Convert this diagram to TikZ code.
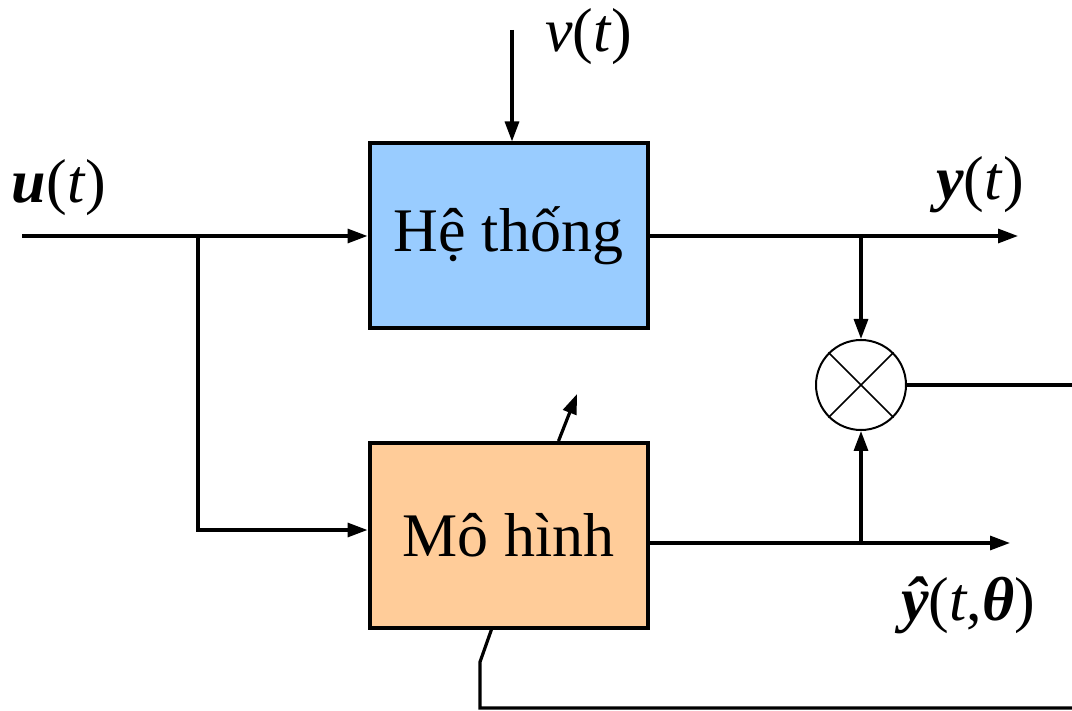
\documentclass[tikz,border=0pt]{standalone}
\usepackage{fontspec}
\setmainfont{Liberation Serif}
\usepackage{tikz}
\usetikzlibrary{positioning,arrows.meta,calc}
\definecolor{xanh}{HTML}{99CCFF}
\definecolor{cam}{HTML}{FFCC99}
\begin{document}
\begin{tikzpicture}[
  x=0.5pt, y=-0.5pt,
  font=\fontsize{31}{36}\selectfont,
  khoi/.style={draw, line width=2pt, minimum width=139pt, minimum height=92.5pt, inner sep=0pt},
  tron/.style={draw, circle, line width=1pt, minimum size=45pt, inner sep=0pt},
  nhan/.style={anchor=base, inner sep=0pt},
  arr/.style={-{Triangle[length=10pt,width=7pt]}, line width=1.6pt},
  ln/.style={line width=1.6pt}
]
\useasboundingbox (0,0) rectangle (1072,711);
\node[khoi, fill=xanh] (he) at (508.5,236) {Hệ thống};
\node[khoi, fill=cam] (mohinh) at (508.5,535.5) {Mô hình};
\node[tron] (sosanh) at (861,385) {};
\draw[line width=0.8pt] (sosanh.north west) -- (sosanh.south east);
\draw[line width=0.8pt] (sosanh.north east) -- (sosanh.south west);
% labels
\node[nhan] (lu) at (59,203) {\textbf{\textit{u}}(\textit{t})};
\node[nhan] (lv) at (589,52) {\textit{ν}(\textit{t})};
\node[nhan] (ly) at (980,200) {\textbf{\textit{y}}(\textit{t})};
\node[nhan] (lyh) at (968,620) {\textbf{\textit{ŷ}}(\textit{t},\textbf{\textit{θ}})};
% coordinates
\coordinate (uin) at (22,236);
\coordinate (re) at (198,236);
\coordinate (vin) at (512,30);
\coordinate (yout) at (1018,236);
\coordinate (ry) at (861,236);
\coordinate (yhout) at (1010,543);
\coordinate (ryh) at (861,543);
\coordinate (e) at (1072,385);
\coordinate (b1) at (1072,708);
\coordinate (b2) at (480,708);
\coordinate (b3) at (480,662);
\coordinate (b4) at (492,628);
\coordinate (chinh) at (577,394);
% connectors
\draw[arr] (uin) -- (he.west);
\draw[arr] (re) |- ([yshift=2.75pt]mohinh.west);
\draw[arr] (vin) -- (vin |- he.north);
\draw[arr] (he.east) -- (yout);
\draw[arr] (ry) -- (sosanh.north);
\draw[arr] ([yshift=-3.75pt]mohinh.east) -- (yhout);
\draw[arr] (ryh) -- (sosanh.south);
\draw[ln] (sosanh.east) -- (e);
\draw[ln] (b1) -- (b2) -- (b3) -- (b4);
\draw[arr] ([xshift=25pt]mohinh.north) -- (chinh);
\end{tikzpicture}
\end{document}
